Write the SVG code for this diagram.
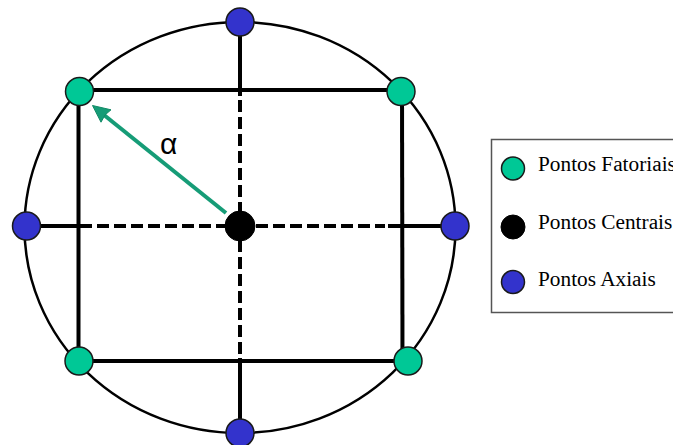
<svg xmlns="http://www.w3.org/2000/svg" width="673" height="445" viewBox="0 0 673 445">
<style>
.ln{stroke:#000;stroke-width:4;fill:none}
.dash{stroke:#000;stroke-width:4;fill:none;stroke-dasharray:12 5}
.fat{fill:#00C896;stroke:#1a1a1a;stroke-width:1.5}
.ax{fill:#3333CC;stroke:#1a1a1a;stroke-width:1.5}
.cen{fill:#000;stroke:#000;stroke-width:1}
.lg{font-family:"Liberation Serif","Times New Roman",serif;font-size:21.3px;fill:#000}
</style>
<rect width="673" height="445" fill="#fff"/>
<g id="connectors">
<ellipse cx="240" cy="227.5" rx="215.5" ry="205.5" fill="none" stroke="#000" stroke-width="2.5"/>
<line class="ln" x1="78" y1="90" x2="402" y2="90"/>
<line class="ln" x1="78" y1="361" x2="408" y2="361"/>
<line class="ln" x1="78.5" y1="90" x2="78.5" y2="361"/>
<line class="ln" x1="402" y1="90" x2="402.5" y2="361"/>
<line class="ln" x1="240" y1="22" x2="240" y2="96"/>
<line class="dash" x1="240" y1="100" x2="240" y2="212"/>
<line class="dash" x1="240" y1="240" x2="240" y2="355"/>
<line class="ln" x1="240" y1="358" x2="240" y2="433"/>
<line class="ln" x1="26" y1="226" x2="92" y2="226"/>
<line class="dash" x1="97" y1="226" x2="226" y2="226"/>
<line class="dash" x1="256" y1="226" x2="385" y2="226"/>
<line class="ln" x1="388" y1="226" x2="455" y2="226"/>
<g id="alpha-arrow">
<line x1="226" y1="213" x2="104" y2="115" stroke="#169C77" stroke-width="4"/>
<polygon points="92.5,105.5 111,109.8 105,115 101,122.2" fill="#169C77" stroke="#138a66" stroke-width="1"/>
<text x="160" y="154" font-family="Liberation Sans, Arial, sans-serif" font-size="30">α</text>
</g>
</g>
<g id="node-center"><circle class="cen" cx="240" cy="226" r="15"/></g>
<g id="node-axial-top"><circle class="ax" cx="240" cy="22" r="14"/></g>
<g id="node-axial-bottom"><circle class="ax" cx="240" cy="433" r="14"/></g>
<g id="node-axial-left"><circle class="ax" cx="26.5" cy="226" r="14"/></g>
<g id="node-axial-right"><circle class="ax" cx="455" cy="226" r="14"/></g>
<g id="node-fat-tl"><circle class="fat" cx="79.5" cy="91.5" r="14"/></g>
<g id="node-fat-tr"><circle class="fat" cx="401" cy="91.5" r="14"/></g>
<g id="node-fat-bl"><circle class="fat" cx="79" cy="361" r="14"/></g>
<g id="node-fat-br"><circle class="fat" cx="408" cy="361" r="14"/></g>
<g id="legend">
<rect x="491.5" y="139.5" width="200" height="173" fill="#fff" stroke="#555" stroke-width="1.5"/>
<circle class="fat" cx="513" cy="168.5" r="11.5"/>
<circle class="cen" cx="513" cy="227" r="12"/>
<circle class="ax" cx="513" cy="282" r="11.5"/>
<text class="lg" x="538" y="171">Pontos Fatoriais</text>
<text class="lg" x="538" y="229">Pontos Centrais</text>
<text class="lg" x="538" y="286">Pontos Axiais</text>
</g>
</svg>
